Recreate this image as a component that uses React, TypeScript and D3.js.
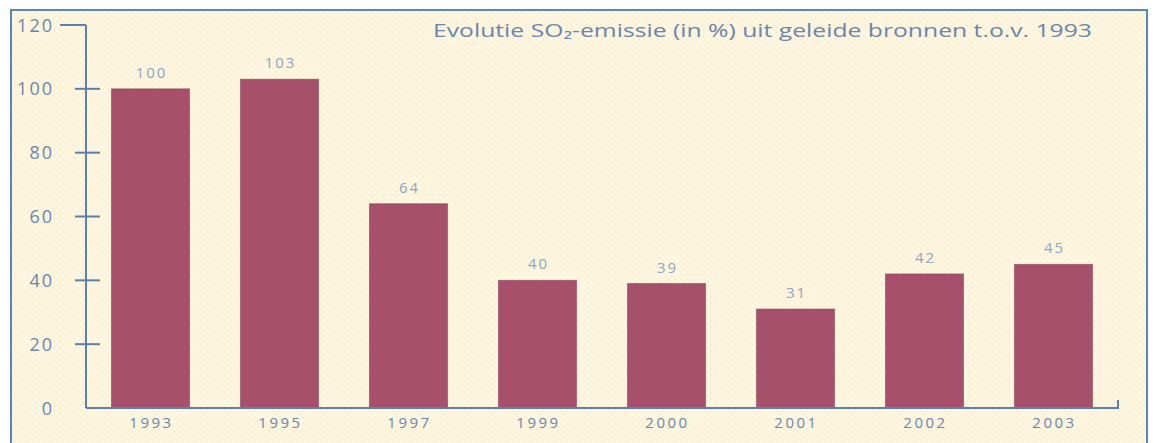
import React from "react";
import * as d3 from "d3";

const years = ["1993", "1995", "1997", "1999", "2000", "2001", "2002", "2003"];
const values = [100, 103, 64, 40, 39, 31, 42, 45];
const yTicks = [0, 20, 40, 60, 80, 100, 120];
const titleText = "Evolutie SO₂-emissie (in %) uit geleide bronnen t.o.v. 1993";

const W = 1154;
const H = 443;
const axisColor = "#5a80b2";
const labelColor = "#6a86ad";
const valueColor = "#8fa5c4";
const barColor = "#a6506b";
const font = "'Open Sans', 'Noto Sans', sans-serif";

export default function App() {
  const x = d3
    .scaleBand<string>()
    .domain(years)
    .range([86, 1118])
    .paddingInner(0.395)
    .paddingOuter(0.1975);
  const y = d3.scaleLinear().domain([0, 120]).range([408, 25]);

  return (
    <div style={{ position: "absolute", left: 0, top: 0 }}>
      <svg width={W} height={H} style={{ display: "block" }}>
        <defs>
          <pattern id="bg" width="6" height="6" patternUnits="userSpaceOnUse">
            <rect width="6" height="6" fill="#fdf8de" />
            <path d="M0,0 L6,6" stroke="#f5dcd6" strokeWidth="0.7" opacity="0.6" />
            <path d="M6,0 L0,6" stroke="#e2e6e6" strokeWidth="0.7" opacity="0.6" />
          </pattern>
        </defs>
        <rect x={0} y={0} width={W} height={H} fill="#ffffff" />
        <rect x={11} y={10} width={1136} height={H - 10} fill="url(#bg)" />
        <path d={`M11,${H} L11,10 L1147,10 L1147,${H}`} fill="none" stroke="#5b84b8" strokeWidth={2} />

        <text
          x={433}
          y={37}
          fontFamily={font}
          fontSize={18.5}
          fill={labelColor}
          textLength={659}
          lengthAdjust="spacingAndGlyphs"
        >
          {titleText}
        </text>

        {years.map((yr, i) => (
          <g key={yr}>
            <rect
              x={x(yr)}
              y={y(values[i])}
              width={x.bandwidth()}
              height={y(0) - y(values[i])}
              fill={barColor}
              stroke="#7d3850"
              strokeWidth={1}
              strokeOpacity={0.5}
            />
            <text
              x={(x(yr) as number) + x.bandwidth() / 2 + 1}
              y={y(values[i]) - 11}
              textAnchor="middle"
              fontFamily={font}
              fontSize={15}
              fill={valueColor}
              letterSpacing={2}
            >
              {values[i]}
            </text>
            <text
              x={(x(yr) as number) + x.bandwidth() / 2 + 1}
              y={428}
              textAnchor="middle"
              fontFamily={font}
              fontSize={15}
              fill={labelColor}
              letterSpacing={2.5}
            >
              {yr}
            </text>
          </g>
        ))}

        {yTicks.map((t) => (
          <g key={t}>
            {t > 0 && t < 120 && (
              <line x1={75} x2={100} y1={y(t)} y2={y(t)} stroke={axisColor} strokeWidth={2} />
            )}
            {t === 120 && (
              <line x1={60} x2={86} y1={y(t)} y2={y(t)} stroke={axisColor} strokeWidth={2} />
            )}
            <text
              x={54}
              y={y(t) + 6.5}
              textAnchor="end"
              fontFamily={font}
              fontSize={18}
              fill={labelColor}
              letterSpacing={2}
            >
              {t}
            </text>
          </g>
        ))}

        <line x1={86} x2={86} y1={y(120)} y2={y(0)} stroke={axisColor} strokeWidth={2} />
        <path
          d={`M86,${y(0)} L1118,${y(0)} L1118,${y(0) - 8}`}
          fill="none"
          stroke={axisColor}
          strokeWidth={2}
        />
      </svg>
    </div>
  );
}
